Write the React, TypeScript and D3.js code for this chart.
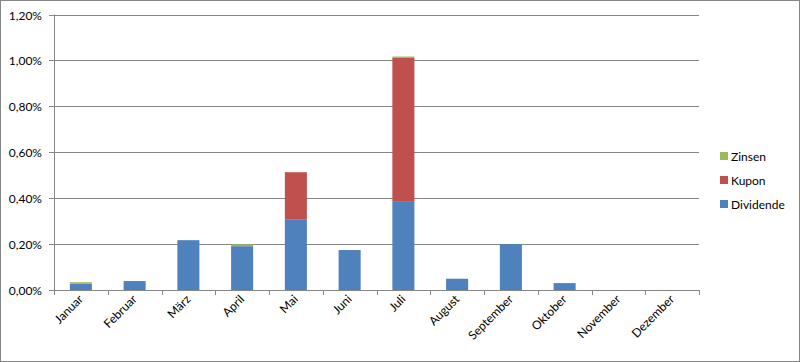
import React from "react";
import * as d3 from "d3";

const months = [
  "Januar", "Februar", "März", "April", "Mai", "Juni",
  "Juli", "August", "September", "Oktober", "November", "Dezember",
];
// values in percent
const dividende = [0.027, 0.039, 0.217, 0.191, 0.306, 0.174, 0.384, 0.049, 0.2, 0.03, 0, 0];
const kupon = [0, 0, 0, 0, 0.207, 0, 0.629, 0, 0, 0, 0, 0];
const zinsen = [0.007, 0, 0, 0.008, 0, 0, 0.004, 0, 0, 0, 0, 0];

const seriesNames = ["Dividende", "Kupon", "Zinsen"];
const colors: Record<string, string> = {
  Dividende: "#4F81BD",
  Kupon: "#C0504D",
  Zinsen: "#9BBB59",
};
const yTicks = [0, 0.2, 0.4, 0.6, 0.8, 1.0, 1.2];

const W = 800;
const H = 362;
const m = { left: 54, right: 101, top: 14.5, bottom: 72 };
const FONT = "Lato, 'Open Sans', sans-serif";

export default function App() {
  const rows = months.map((mo, i) => ({
    month: mo,
    Dividende: dividende[i],
    Kupon: kupon[i],
    Zinsen: zinsen[i],
  }));
  const stacked = d3.stack<any>().keys(seriesNames)(rows);

  const x = d3
    .scaleBand()
    .domain(months)
    .range([m.left, W - m.right])
    .paddingInner(0.59)
    .paddingOuter(0.295);
  const y = d3.scaleLinear().domain([0, 1.2]).range([H - m.bottom, m.top]);
  const step = x.step();
  const x0 = m.left;
  const x1 = W - m.right;
  const fmt = (v: number) => v.toFixed(2).replace(".", ",") + "%";
  const legendOrder = ["Zinsen", "Kupon", "Dividende"];

  return (
    <svg
      width={W}
      height={H}
      style={{ position: "absolute", left: 0, top: 0, background: "#fff" }}
      fontFamily={FONT}
    >
      <rect x={0.5} y={0.5} width={W - 1} height={H - 1} fill="#fff" stroke="#868686" />
      {yTicks.map((t) => (
        <g key={t}>
          <line
            x1={x0 - 5}
            x2={x1}
            y1={Math.round(y(t)) + 0.5}
            y2={Math.round(y(t)) + 0.5}
            stroke="#868686"
          />
          <text
            x={42}
            y={Math.round(y(t)) + 4.5}
            textAnchor="end"
            fontSize={12}
            fill="#000"
          >
            {fmt(t)}
          </text>
        </g>
      ))}
      <line x1={x0 + 0.5} x2={x0 + 0.5} y1={y(1.2)} y2={y(0)} stroke="#868686" />
      {stacked.map((s) =>
        s.map((d, i) =>
          d[1] - d[0] > 0 ? (
            <rect
              key={s.key + i}
              x={x(months[i])}
              width={x.bandwidth()}
              y={y(d[1])}
              height={y(d[0]) - y(d[1])}
              fill={colors[s.key]}
            />
          ) : null
        )
      )}
      {d3.range(13).map((i) => (
        <line
          key={i}
          x1={Math.round(x0 + i * step) + 0.5}
          x2={Math.round(x0 + i * step) + 0.5}
          y1={y(0)}
          y2={y(0) + 5}
          stroke="#868686"
        />
      ))}
      {months.map((mo) => {
        const cx = (x(mo) as number) + x.bandwidth() / 2 + 3;
        const cy = y(0) + 10;
        return (
          <text
            key={mo}
            transform={`translate(${cx},${cy}) rotate(-45)`}
            textAnchor="end"
            fontSize={12}
            fill="#000"
          >
            {mo}
          </text>
        );
      })}
      {legendOrder.map((k, i) => (
        <g key={k} transform={`translate(720,${152 + i * 24})`}>
          <rect x={0} y={0} width={8} height={8} fill={colors[k]} />
          <text x={11} y={9} fontSize={12} fill="#000">
            {k}
          </text>
        </g>
      ))}
    </svg>
  );
}
